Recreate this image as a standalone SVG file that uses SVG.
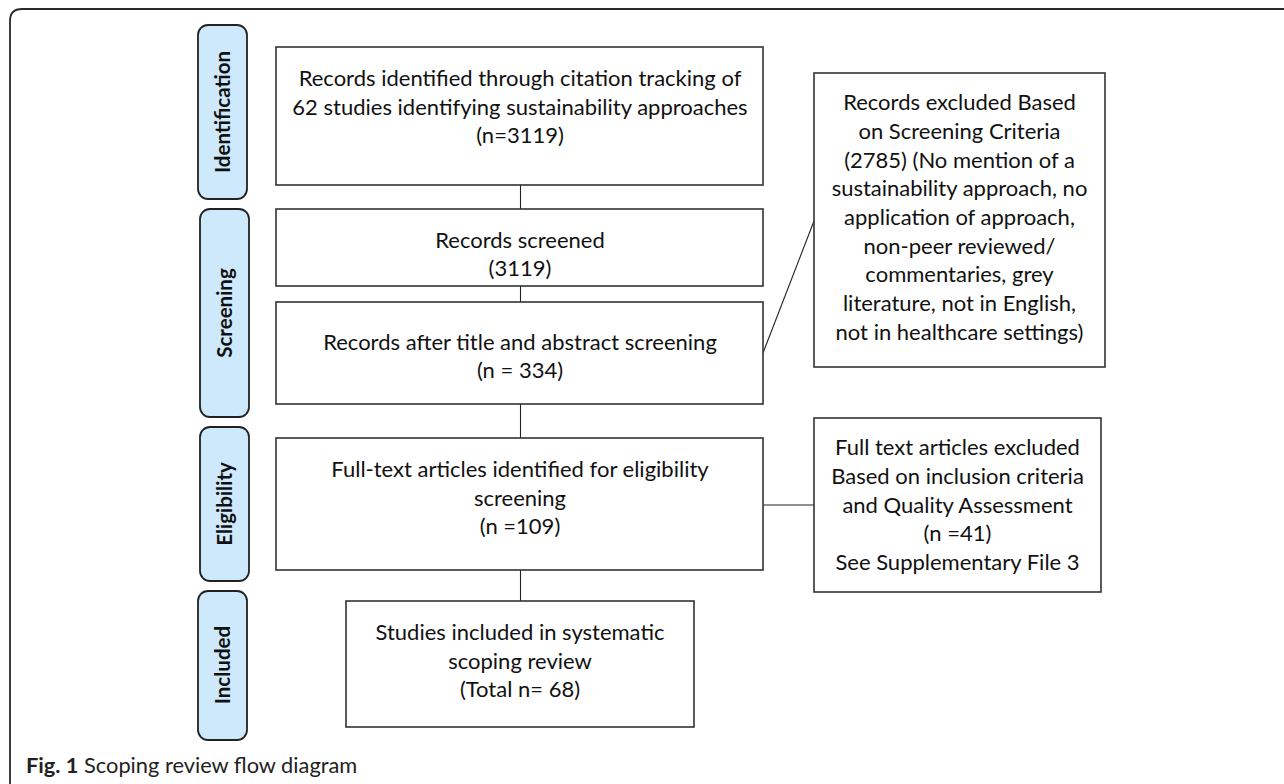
<svg xmlns="http://www.w3.org/2000/svg" width="1284" height="784" viewBox="0 0 1284 784">
<style>
.frame{fill:none;stroke:#2a2a2a;stroke-width:1.8}
.lab{fill:#cde9fb;stroke:#222;stroke-width:1.8}
.box{fill:#fff;stroke:#333;stroke-width:1.6}
.lt{font-family:Lato,"Liberation Sans",sans-serif;font-weight:bold;font-size:20.5px;fill:#111;text-anchor:middle}
.t{font-family:Lato,"Liberation Sans",sans-serif;font-size:22px;fill:#111;text-anchor:middle}
.cap{font-family:Lato,"Liberation Sans",sans-serif;font-size:21.8px;fill:#222}
.con{stroke:#222;stroke-width:1.1;fill:none}
</style>
<rect width="1284" height="784" fill="#fff"/>
<path class="frame" d="M10,790 V21 Q10,9 22,9 H1290"/>
<g id="stage-identification">
<rect class="lab" x="198" y="25" width="49" height="174" rx="10"/>
<text class="lt" transform="translate(230,112) rotate(-90)">Identification</text>
</g>
<g id="stage-screening">
<rect class="lab" x="200" y="209" width="49" height="208" rx="10"/>
<text class="lt" transform="translate(232,313) rotate(-90)">Screening</text>
</g>
<g id="stage-eligibility">
<rect class="lab" x="200" y="427" width="49" height="154" rx="10"/>
<text class="lt" transform="translate(232,504) rotate(-90)">Eligibility</text>
</g>
<g id="stage-included">
<rect class="lab" x="198" y="591" width="49" height="149" rx="10"/>
<text class="lt" transform="translate(230,665) rotate(-90)">Included</text>
</g>
<g id="connectors">
<line class="con" x1="520.5" y1="185" x2="520.5" y2="209"/>
<line class="con" x1="520.5" y1="286" x2="520.5" y2="302"/>
<line class="con" x1="520.5" y1="404" x2="520.5" y2="438"/>
<line class="con" x1="520.5" y1="570" x2="520.5" y2="601"/>
<line class="con" x1="763" y1="353" x2="814" y2="221"/>
<line class="con" x1="763" y1="505" x2="814" y2="505"/>
</g>
<g id="box-identified">
<rect class="box" x="276" y="47" width="487" height="138"/>
<text class="t" x="520" y="86">Records identified through citation tracking of</text>
<text class="t" x="520" y="115">62 studies identifying sustainability approaches</text>
<text class="t" x="520" y="143">(n=3119)</text>
</g>
<g id="box-screened">
<rect class="box" x="276" y="209" width="487" height="77"/>
<text class="t" x="520" y="248">Records screened</text>
<text class="t" x="520" y="276">(3119)</text>
</g>
<g id="box-after-abstract">
<rect class="box" x="276" y="302" width="487" height="102"/>
<text class="t" x="520" y="350">Records after title and abstract screening</text>
<text class="t" x="520" y="378">(n = 334)</text>
</g>
<g id="box-fulltext">
<rect class="box" x="276" y="438" width="487" height="132"/>
<text class="t" x="520" y="477">Full-text articles identified for eligibility</text>
<text class="t" x="520" y="506">screening</text>
<text class="t" x="520" y="534">(n =109)</text>
</g>
<g id="box-included">
<rect class="box" x="346" y="601" width="348" height="126"/>
<text class="t" x="520" y="640">Studies included in systematic</text>
<text class="t" x="520" y="669">scoping review</text>
<text class="t" x="520" y="697">(Total n= 68)</text>
</g>
<g id="box-excluded-screening">
<rect class="box" x="814" y="73" width="291" height="294"/>
<text class="t" x="959.5" y="110">Records excluded Based</text>
<text class="t" x="959.5" y="139">on Screening Criteria</text>
<text class="t" x="959.5" y="168">(2785) (No mention of a</text>
<text class="t" x="959.5" y="196">sustainability approach, no</text>
<text class="t" x="959.5" y="225">application of approach,</text>
<text class="t" x="959.5" y="254">non-peer reviewed/</text>
<text class="t" x="959.5" y="282">commentaries, grey</text>
<text class="t" x="959.5" y="311">literature, not in English,</text>
<text class="t" x="959.5" y="340">not in healthcare settings)</text>
</g>
<g id="box-excluded-fulltext">
<rect class="box" x="814" y="418" width="287" height="174"/>
<text class="t" x="957.5" y="455">Full text articles excluded</text>
<text class="t" x="957.5" y="484">Based on inclusion criteria</text>
<text class="t" x="957.5" y="513">and Quality Assessment</text>
<text class="t" x="957.5" y="541">(n =41)</text>
<text class="t" x="957.5" y="570">See Supplementary File 3</text>
</g>
<text class="cap" x="26" y="773"><tspan font-weight="bold">Fig. 1</tspan> Scoping review flow diagram</text>
</svg>
